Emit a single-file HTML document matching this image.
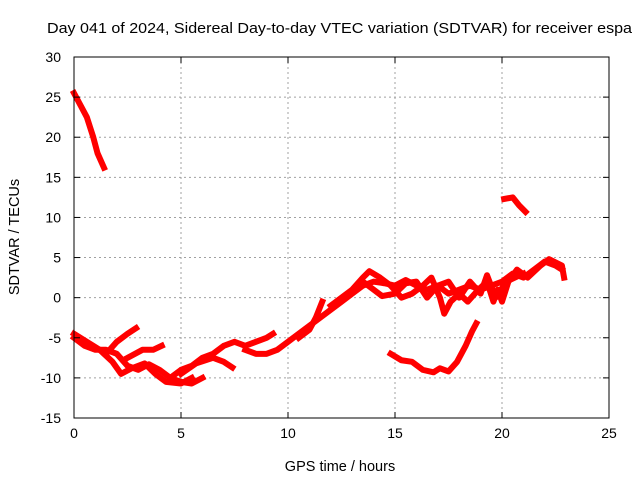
<!DOCTYPE html>
<html><head><meta charset="utf-8"><style>
body{margin:0;background:#fff;}
svg{display:block;font-family:"Liberation Sans",sans-serif;}
</style></head><body>
<svg id="chart" width="640" height="480" viewBox="0 0 640 480">
<rect width="640" height="480" fill="#fff"/>
<text x="47" y="33" font-size="14.5" textLength="585" lengthAdjust="spacingAndGlyphs" fill="#000">Day 041 of 2024, Sidereal Day-to-day VTEC variation (SDTVAR) for receiver espa</text>
<g id="grid"></g><g id="series"></g><g id="axes"></g>
<text x="340" y="471" font-size="14.5" text-anchor="middle">GPS time / hours</text>
<text transform="translate(19,237) rotate(-90)" font-size="14.5" text-anchor="middle">SDTVAR / TECUs</text>
</svg>
<script>
const xTicks=[0,5,10,15,20,25];
const yTicks=[-15,-10,-5,0,5,10,15,20,25,30];
const s1=[[0,25.5],[0.3,24],[0.6,22.5],[0.9,20],[1.1,18],[1.4,16.2]];
const s2=[[20.1,12.3],[20.5,12.5],[20.8,11.5],[21.1,10.7]];
const s3=[[14.8,-7],[15.3,-7.8],[15.8,-8],[16.3,-9],[16.8,-9.3],[17.1,-8.8],[17.5,-9.2],[17.9,-8],[18.3,-6],[18.6,-4.2],[18.8,-3.2]];
const sA=[[0,-5],[0.5,-6],[1,-6.5],[1.5,-6.5],[2,-7],[2.5,-8.5],[3,-9],[3.5,-8.3],[4,-9],[4.5,-10],[5,-10.5],[5.5,-10.7],[6,-10]];
const sB=[[0,-4.5],[0.6,-5.5],[1.2,-6.5],[1.8,-8],[2.2,-9.5],[2.7,-8.8],[3.3,-8.2],[3.8,-9.5],[4.3,-10.5],[5,-10.7],[5.5,-10]];
const sC=[[1.5,-7],[2,-5.5],[2.5,-4.5],[2.9,-3.8]];
const sD=[[2.5,-7.5],[3.2,-6.5],[3.7,-6.5],[4.1,-6]];
const sE=[[4.5,-10],[5,-9],[5.5,-8.5],[6,-7.5],[6.5,-7],[7,-6],[7.5,-5.5],[8,-6],[8.5,-5.5],[9,-5],[9.3,-4.5]];
const sF=[[5,-9.5],[5.7,-8.2],[6.5,-7.5],[7,-8],[7.4,-8.7]];
const sG=[[8,-6.5],[8.5,-7],[9,-7],[9.5,-6.5],[10,-5.5],[10.5,-4.5],[11,-3.5],[11.5,-2.5],[12,-1.5],[12.5,-0.5],[13,0.5],[13.5,1.5],[14,2],[14.5,1.8],[15,1.5],[15.5,2.2],[16,1.5],[16.5,1],[17,1.5],[17.5,0.5],[18,1],[18.5,1.5],[19,1],[19.5,1.5],[20,2],[20.5,3],[21,2.5],[21.5,3.5],[22,4.5],[22.5,4],[22.8,3.5]];
const sH=[[10.5,-5],[11,-4],[11.3,-2.5],[11.6,-0.5]];
const sI=[[12,-1],[12.5,0],[13,1],[13.5,2.5],[13.8,3.3],[14.3,2.5],[14.8,1.5],[15.3,0],[15.8,0.5],[16.3,1.5],[16.7,2.5],[17.1,0],[17.3,-2],[17.6,-0.5],[18,0.5],[18.4,-0.5],[18.9,1],[19.3,2],[19.6,-0.5],[19.8,1],[20,-0.5],[20.3,2],[20.7,3.5],[21.2,2.5],[21.8,4],[22.2,4.8],[22.8,4],[22.9,2.5]];
const sJ=[[13.5,2],[14,1],[14.4,0.2],[15,0.5],[15.5,1.8],[16,2],[16.5,0],[17,1.5],[17.5,2],[18,0],[18.5,2],[19,0.5],[19.3,2.8],[19.7,0],[20.2,2],[21,3]];
const allSeries=[s1,s2,s3,sA,sB,sC,sD,sE,sF,sG,sH,sI,sJ];
const L=74,R=609,T=57,B=418;
const xs=v=>L+(v-0)/25*(R-L);
const ys=v=>B-(v+15)/45*(B-T);
const NS="http://www.w3.org/2000/svg";
function mk(tag,attrs,parent){const e=document.createElementNS(NS,tag);for(const k in attrs)e.setAttribute(k,attrs[k]);parent.appendChild(e);return e;}
const grid=document.getElementById('grid'),axes=document.getElementById('axes'),ser=document.getElementById('series');
xTicks.forEach(t=>{const x=xs(t);
 if(t>0&&t<25){const g=mk('line',{x1:x,x2:x,y1:T,y2:B,stroke:'#a0a0a0','stroke-dasharray':'2,3'},grid);
 
 }
 mk('line',{x1:x,x2:x,y1:B,y2:B-6,stroke:'#000'},axes);
 mk('line',{x1:x,x2:x,y1:T,y2:T+6,stroke:'#000'},axes);
 const tx=mk('text',{x:x,y:B+20,'font-size':'14','text-anchor':'middle'},axes);tx.textContent=t;
 
 
});
yTicks.forEach(t=>{const y=ys(t);
 if(t>-15&&t<30){const g=mk('line',{x1:L,x2:R,y1:y,y2:y,stroke:'#a0a0a0','stroke-dasharray':'2,3'},grid);
 
 }
 mk('line',{x1:L,x2:L+6,y1:y,y2:y,stroke:'#000'},axes);
 mk('line',{x1:R,x2:R-6,y1:y,y2:y,stroke:'#000'},axes);
 const tx=mk('text',{x:L-13,y:y+5,'font-size':'14','text-anchor':'end'},axes);tx.textContent=t;
 
 
});
const fr=mk('rect',{x:L,y:T,width:R-L,height:B-T,fill:'none',stroke:'#000','stroke-width':1},axes);


allSeries.forEach(s=>{
 const p=mk('polyline',{points:s.map(d=>xs(d[0])+','+ys(d[1])).join(' '),fill:'none',stroke:'#f00','stroke-width':6,'stroke-linejoin':'round','stroke-linecap':'square'},ser);
 
 
});
</script>
</body></html>
